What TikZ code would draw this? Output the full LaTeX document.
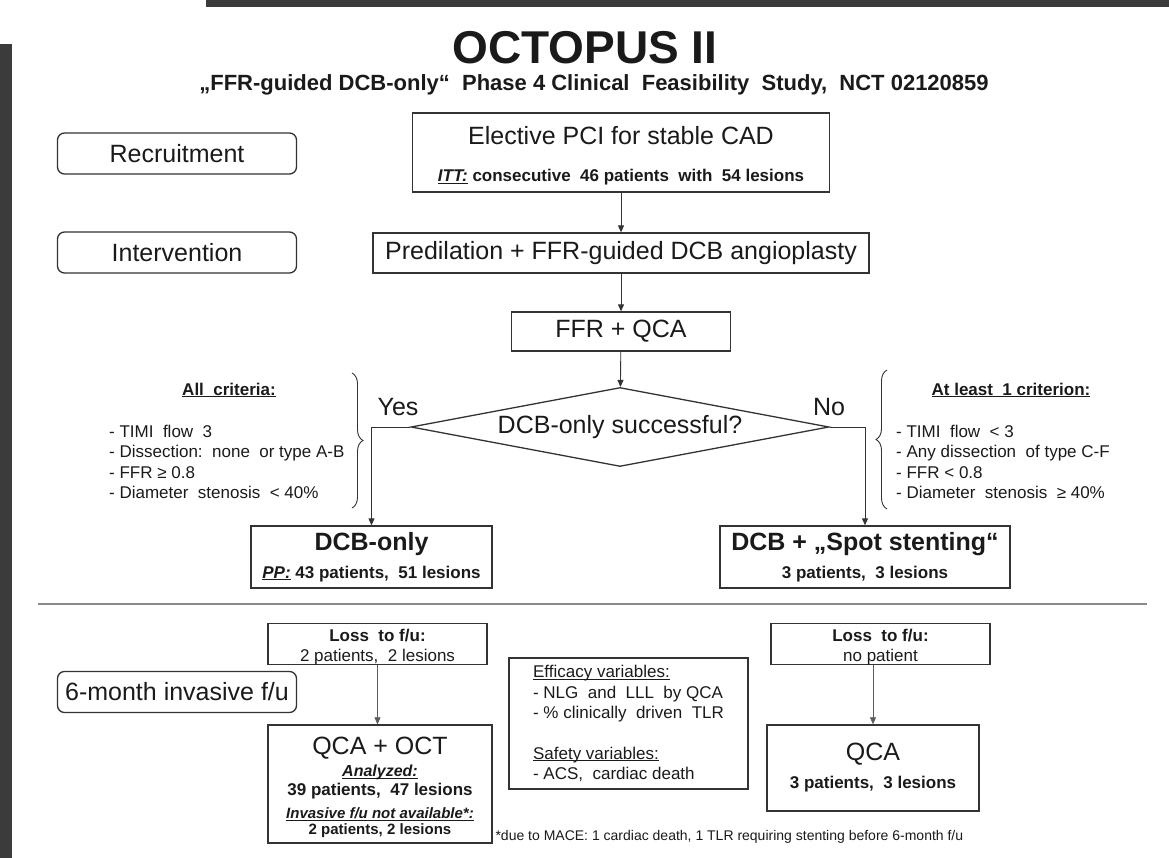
\documentclass[tikz,border=0pt]{standalone}
\usepackage{fontspec}
\setmainfont{Liberation Sans}
\usetikzlibrary{arrows.meta,positioning,shapes.geometric,decorations.pathreplacing}

\definecolor{ink}{HTML}{1A1A1A}
\definecolor{linegray}{HTML}{333333}
\definecolor{sepgray}{HTML}{8A8A8A}
\definecolor{bandgray}{HTML}{3B3B3B}

\newcommand{\setfs}[2]{\fontsize{#1}{#2}\selectfont}
\newcommand{\ulin}[1]{\underline{\smash{#1}}\vphantom{#1}}
\newcommand{\ulbi}[1]{\ulin{\textbf{\textit{#1}}}}

\tikzset{
  band/.style={fill=bandgray},
  phasebox/.style={draw=linegray, line width=1.3pt, rounded corners=7pt, minimum width=239pt, minimum height=41pt, inner sep=0pt, text=ink, font=\setfs{25}{28}},
  stepbox/.style={draw=linegray, line width=1.3pt, align=center, inner sep=0pt, text=ink, font=\setfs{25}{28}},
  decision/.style={draw=linegray, line width=1.3pt, diamond, aspect=5.3, inner sep=0pt, minimum width=418pt, minimum height=79pt, text=ink, font=\setfs{25}{28}},
  crithead/.style={text=ink, font=\bfseries\setfs{17}{20}},
  critlist/.style={text=ink, anchor=west, align=left, inner sep=0pt, font=\setfs{17}{20.3}},
  answer/.style={text=ink, font=\setfs{25}{28}},
  arrow/.style={draw=linegray, line width=0.9pt, -{Triangle[length=7pt,width=6pt]}},
  lightarrow/.style={draw=linegray!80, line width=0.7pt, -{Triangle[length=7pt,width=6pt]}},
  critbrace/.style={draw=linegray, line width=0.9pt, decorate, decoration={brace, amplitude=11pt}},
  sepline/.style={draw=sepgray, line width=2pt},
  notetext/.style={text=ink, anchor=west, font=\setfs{14}{16}}
}

\begin{document}
\begin{tikzpicture}[x=1pt, y=-1pt]
  \useasboundingbox (0,0) rectangle (1169,858);
  \fill[band] (206,0) rectangle (1169,7);
  \fill[band] (0,44) rectangle (12,858);

  \node[text=ink, font=\bfseries\setfs{46}{50}] (title) at (585,48) {OCTOPUS II};
  \node[text=ink, font=\bfseries\setfs{22}{26}] (subtitle) at (594,85) {„FFR-guided DCB-only“\ \ Phase 4 Clinical\ \ Feasibility\ \ Study,\ \ NCT 02120859};

  % phases
  \node[phasebox] (recruit) at (177,153.5) {Recruitment};
  \node[phasebox] (interv) at (177,252.5) {Intervention};
  \node[phasebox] (fumonth) at (177,692) {6-month invasive f/u};

  % main flow
  \node[stepbox, minimum width=417pt, minimum height=79pt, font=\setfs{25}{37}] (elective) at (621,152.5) {\rule{0pt}{25pt}Elective PCI for stable CAD\\{\bfseries\setfs{17}{20}\ulin{\textit{ITT:}} consecutive\ \ 46 patients\ \ with\ \ 54 lesions}};
  \node[stepbox, minimum width=496pt, minimum height=40pt] (predil) at (621,253) {Predilation + FFR-guided DCB angioplasty};
  \node[stepbox, minimum width=219pt, minimum height=39pt] (ffrqca) at (621,331.5) {FFR + QCA};
  \node[decision] (success) at (620,427) {DCB-only successful?};
  \node[answer] (yes) at (398,407) {Yes};
  \node[answer] (no) at (829,407) {No};

  \node[stepbox, minimum width=241pt, minimum height=62pt] (dcbonly) at (371.5,557) {\bfseries DCB-only\\{\bfseries\setfs{17}{20}\ulin{\textit{PP:}} 43 patients,\ \ 51 lesions}};
  \node[stepbox, minimum width=290pt, minimum height=62pt] (spot) at (865,557) {\bfseries DCB + „Spot stenting“\\{\bfseries\setfs{17}{20}3 patients,\ \ 3 lesions}};

  % criteria
  \node[crithead] (allhead) at (229,390) {\ulin{All\ \ criteria:}};
  \node[critlist] (alllist) at (109,462) {- TIMI\ \ flow\ \ 3\\- Dissection:\ \ none\ \ or type A-B\\- FFR ≥ 0.8\\- Diameter\ \ stenosis\ \ < 40\%};
  \node[crithead] (leasthead) at (1011,390) {\ulin{At least\ \ 1 criterion:}};
  \node[critlist] (leastlist) at (896,462) {- TIMI\ \ flow\ \ < 3\\- Any dissection\ \ of type C-F\\- FFR < 0.8\\- Diameter\ \ stenosis\ \ ≥ 40\%};
  \draw[critbrace] (352,373) -- (352,508);
  \draw[critbrace] (887,509) -- (887,370);

  \draw[arrow] (elective) -- (predil);
  \draw[arrow] (predil) -- (ffrqca);
  \draw[arrow] (ffrqca) -- (success);
  \draw[arrow] (success.west) -| (dcbonly);
  \draw[arrow] (success.east) -| (spot);

  \draw[sepline] (38,604) -- (1147,604);

  % follow-up
  \node[stepbox, minimum width=219pt, minimum height=40pt, font=\setfs{17}{20}] (lossl) at (377.5,644) {\rule{0pt}{18pt}\textbf{Loss\ \ to f/u:}\\2 patients,\ \ 2 lesions};
  \node[stepbox, minimum width=224pt, minimum height=118pt, font=\setfs{25}{19}] (qcaoct) at (380,784) {\rule{0pt}{24pt}QCA + OCT\\[3pt]{\setfs{16}{19}\ulbi{Analyzed:}}\\{\bfseries\setfs{17}{19}39 patients,\ \ 47 lesions}\\[4pt]{\setfs{15}{17}\ulbi{Invasive f/u not available*:}}\\[-3pt]{\bfseries\setfs{15}{17}2 patients, 2 lesions}};
  \node[stepbox, align=left, minimum width=239pt, minimum height=131pt, font=\setfs{17}{20.3}] (effic) at (628.5,723.5) {\ulin{Efficacy variables:}\\- NLG\ \ and\ \ LLL\ \ by QCA\\- \% clinically\ \ driven\ \ TLR\\[20.3pt]\ulin{Safety variables:}\\- ACS,\ \ cardiac death};
  \node[stepbox, minimum width=219pt, minimum height=40pt, font=\setfs{17}{20}] (lossr) at (880.5,644) {\rule{0pt}{18pt}\textbf{Loss\ \ to f/u:}\\no patient};
  \node[stepbox, minimum width=212pt, minimum height=86pt] (qca) at (873,768) {QCA\\{\bfseries\setfs{17}{20}3 patients,\ \ 3 lesions}};

  \draw[lightarrow] (lossl.south) -- (lossl.south |- qcaoct.north);
  \draw[lightarrow] (qca.north |- lossr.south) -- (qca.north);

  \node[notetext] (note) at (492,837) {*due to MACE: 1 cardiac death, 1 TLR requiring stenting before 6-month f/u};
\end{tikzpicture}
\end{document}
